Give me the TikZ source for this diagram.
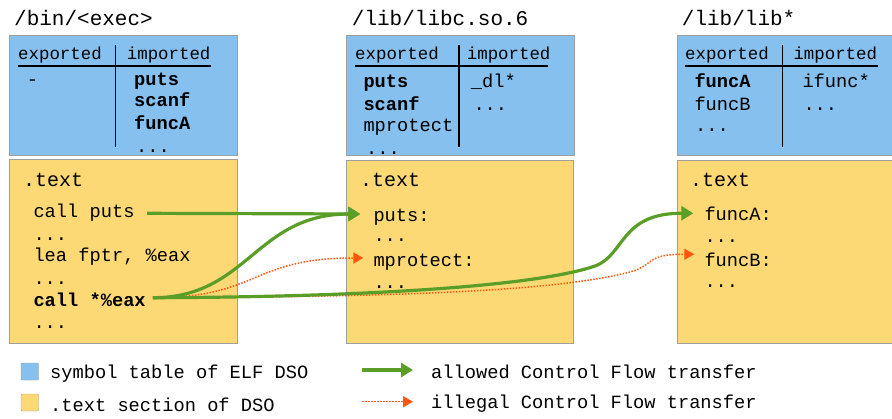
\documentclass[tikz,border=0pt]{standalone}
\usepackage{fontspec}
\usepackage{tikz}
\usetikzlibrary{arrows.meta, positioning, calc}
\newfontfamily\codefont{Liberation Mono}
\definecolor{symblue}{RGB}{133,192,238}
\definecolor{textyellow}{RGB}{253,217,118}
\definecolor{flowgreen}{RGB}{90,158,40}
\definecolor{floworange}{RGB}{255,85,15}

\begin{document}
\begin{tikzpicture}[x=1pt, y=-1pt,
    box/.style={draw=gray!75, line width=1pt},
    title/.style={anchor=base west, inner sep=0pt, font=\codefont\fontsize{21}{21}\selectfont},
    head/.style={anchor=base west, inner sep=0pt, font=\codefont\fontsize{17.4}{17.4}\selectfont},
    code/.style={anchor=base west, inner sep=0pt, font=\codefont\fontsize{18.7}{18.7}\selectfont},
    sect/.style={anchor=base west, inner sep=0pt, font=\codefont\fontsize{20}{20}\selectfont},
    allowed/.style={draw=flowgreen, line width=3.2pt, -{Triangle[length=12pt,width=14pt]}},
    illegal/.style={draw=floworange, line width=1.5pt, dash pattern=on 1.5pt off 1.5pt, -{Triangle[length=10pt,width=11pt]}}]
  \path[use as bounding box, clip] (0,0) rectangle (892,418);

  % titles
  \node[title] (bintitle) at (14,25) {/bin/<exec>};
  \node[title] (libctitle) at (351.7,25) {/lib/libc.so.6};
  \node[title] (libtitle) at (681.7,25) {/lib/lib*};

  % symbol tables
  \draw[box, fill=symblue] (9,35) rectangle (237,155);
  \draw[box, fill=symblue] (346,35) rectangle (574,155);
  \draw[box, fill=symblue] (677,35) rectangle (905,155);
  \foreach \hx/\vx in {18/115.3, 355/459, 685/782.7} {
    \node[head] at (\hx,59.3) {exported};
    \draw[line width=1.2pt] (\hx,66) -- ++(192.5,0);
    \draw[line width=1.2pt] (\vx,45) -- (\vx,147);
  }
  \node[head] at (126.7,59.3) {imported};
  \node[head] at (466.7,59.3) {imported};
  \node[head] at (793.3,59.3) {imported};

  \node[code] at (26.7,85) {-};
  \node[code] at (134,85) {\bfseries puts};
  \node[code] at (134,106.5) {\bfseries scanf};
  \node[code] at (134,129.3) {\bfseries funcA};
  \node[code] at (136,152) {...};

  \node[code] at (363.3,87.5) {\bfseries puts};
  \node[code] at (363.3,110) {\bfseries scanf};
  \node[code] at (363.3,131.6) {mprotect};
  \node[code] at (366,154) {...};
  \node[code] at (470.7,87.5) {\_dl*};
  \node[code] at (473.3,110) {...};

  \node[code] at (694.3,87.3) {\bfseries funcA};
  \node[code] at (694.3,110) {funcB};
  \node[code] at (695,131.7) {...};
  \node[code] at (802.3,87.3) {ifunc*};
  \node[code] at (803.3,110) {...};

  % .text sections
  \draw[box, fill=textyellow] (9,159.5) rectangle (237,343.5);
  \draw[box, fill=textyellow] (346.7,160) rectangle (573.3,343.5);
  \draw[box, fill=textyellow] (677,160) rectangle (905,343.5);
  \node[sect] at (23,186.7) {.text};
  \node[sect] at (360,186.7) {.text};
  \node[sect] at (690,186.7) {.text};

  \node[code] (callputs) at (33.3,217.3) {call puts};
  \node[code] at (33.3,240) {...};
  \node[code] (leafptr) at (33.3,261.7) {lea fptr, \%eax};
  \node[code] at (33.3,284) {...};
  \node[code] (calleax) at (33.3,306.7) {\bfseries call *\%eax};
  \node[code] at (33.3,328.3) {...};

  \node[code] (putsL) at (373.3,221.7) {puts:};
  \node[code] at (373.3,241.7) {...};
  \node[code] (mprotL) at (373.3,266) {mprotect:};
  \node[code] at (373.3,288.3) {...};

  \node[code] (funcAL) at (704.3,220.7) {funcA:};
  \node[code] at (704.3,242.7) {...};
  \node[code] (funcBL) at (704.3,266) {funcB:};
  \node[code] at (704.3,287.7) {...};

  % control flow transfers
  \coordinate (eaxOut) at ([xshift=7pt,yshift=9pt]calleax.base east);
  \coordinate (putsIn) at ([xshift=-13pt,yshift=7.7pt]putsL.base west);
  \draw[illegal] (eaxOut) .. controls +(107,0) and +(-113,0) .. ([xshift=-10pt,yshift=8pt]mprotL.base west);
  \draw[illegal] (eaxOut) .. controls (420,297) and (560,290) .. (630,272)
    .. controls (655,265) and (645,254) .. ([xshift=-10pt,yshift=11.7pt]funcBL.base west);
  \draw[allowed] (eaxOut) .. controls +(95,0) and +(-105,0) .. (putsIn);
  \draw[allowed] (eaxOut) .. controls (380,297) and (540,285) .. (595,266)
    .. controls (625,255) and (620,213) .. ([xshift=-11pt,yshift=7.4pt]funcAL.base west);
  \draw[allowed] ([xshift=12.4pt,yshift=4pt]callputs.base east) -- (putsIn);

  % legend
  \draw[gray!75, fill=symblue, rounded corners=1pt] (21,363) rectangle (38.5,380);
  \draw[gray!75, fill=textyellow, rounded corners=1pt] (21,394) rectangle (38.5,411);
  \node[code] (symkey) at (50,378) {symbol table of ELF DSO};
  \node[code] (textkey) at (50,411) {.text section of DSO};
  \coordinate (greenA) at (362,370);
  \coordinate (greenB) at (413,370);
  \coordinate (orangeA) at (362,401.7);
  \coordinate (orangeB) at (413,401.7);
  \draw[allowed] (greenA) -- (greenB);
  \draw[illegal] (orangeA) -- (orangeB);
  \node[code] (allowkey) at (431,378) {allowed Control Flow transfer};
  \node[code] (illegalkey) at (431,408) {illegal Control Flow transfer};
\end{tikzpicture}
\end{document}
